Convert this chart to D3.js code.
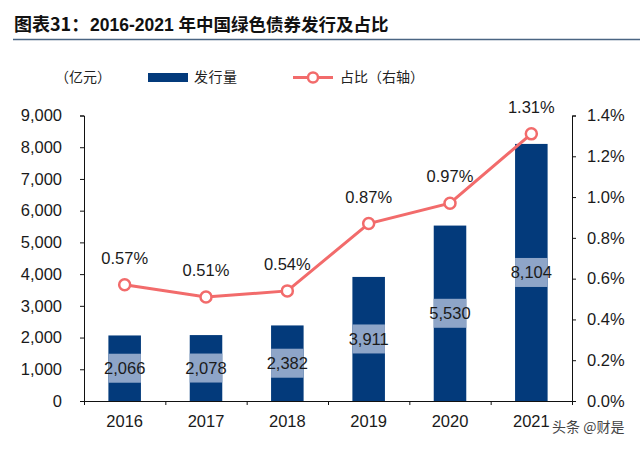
<!DOCTYPE html>
<html>
<head>
<meta charset="utf-8">
<script src="https://cdn.jsdelivr.net/npm/d3@7"></script>
<style>
  body { margin: 0; background: #fff; }
  text { font-family: "Liberation Sans", Arial, sans-serif; }
  .cjk { font-family: "Noto Sans CJK SC", sans-serif; }
</style>
</head>
<body>
<div id="chart"></div>
<script>
const years = ["2016", "2017", "2018", "2019", "2020", "2021"];
const issuance = [2066, 2078, 2382, 3911, 5530, 8104];   // 亿元
const share = [0.57, 0.51, 0.54, 0.87, 0.97, 1.31];      // %
const leftTicks = [0, 1000, 2000, 3000, 4000, 5000, 6000, 7000, 8000, 9000];
const rightTicks = [0, 0.2, 0.4, 0.6, 0.8, 1.0, 1.2, 1.4];

const width = 640, height = 449;
const plotLeft = 84, plotRight = 572, plotTop = 115.5, plotBottom = 401;

const navy = "#033a7b";
const red = "#f26b6b";

const svg = d3.select("#chart").append("svg")
    .attr("width", width)
    .attr("height", height);

// title
svg.append("text")
    .attr("class", "cjk")
    .attr("x", 14).attr("y", 31)
    .style("font-size", "18px").style("font-weight", "bold")
    .attr("fill", "#111")
    .text("图表31：");
const title = svg.append("text")
    .attr("x", 90).attr("y", 31)
    .style("font-size", "17.5px").style("font-weight", "bold")
    .attr("fill", "#111");
title.append("tspan")
    .style("font-family", "'Liberation Sans', Arial, sans-serif")
    .text("2016-2021 ");
title.append("tspan")
    .attr("class", "cjk")
    .style("font-family", "'Noto Sans CJK SC', sans-serif")
    .text("年中国绿色债券发行及占比");
svg.append("line")
    .attr("x1", 13).attr("x2", 640)
    .attr("y1", 39.5).attr("y2", 39.5)
    .attr("stroke", "#4a6583").attr("stroke-width", 1.5);

// legend
svg.append("text").attr("class", "cjk")
    .attr("x", 55).attr("y", 82)
    .style("font-size", "14px").attr("fill", "#222")
    .text("（亿元）");
svg.append("rect")
    .attr("x", 148).attr("y", 73).attr("width", 40).attr("height", 9)
    .attr("fill", navy);
svg.append("text").attr("class", "cjk")
    .attr("x", 194).attr("y", 82)
    .style("font-size", "14px").style("letter-spacing", "0.5px").attr("fill", "#222")
    .text("发行量");
svg.append("line")
    .attr("x1", 293).attr("x2", 333).attr("y1", 77.5).attr("y2", 77.5)
    .attr("stroke", red).attr("stroke-width", 3);
svg.append("circle")
    .attr("cx", 313).attr("cy", 77.5).attr("r", 5)
    .attr("fill", "#fff").attr("stroke", red).attr("stroke-width", 2.5);
svg.append("text").attr("class", "cjk")
    .attr("x", 340).attr("y", 82)
    .style("font-size", "14px").attr("fill", "#222")
    .text("占比（右轴）");

// scales
const x = d3.scaleBand()
    .domain(years)
    .range([plotLeft, plotRight])
    .paddingInner(0.6)
    .paddingOuter(0.3);

const yL = d3.scaleLinear().domain([0, 9000]).range([plotBottom, plotTop]);
const yR = d3.scaleLinear().domain([0, 1.4]).range([plotBottom, plotTop]);

// bars
const bars = svg.append("g");
bars.selectAll("rect")
  .data(issuance)
  .join("rect")
    .attr("x", (d, i) => x(years[i]))
    .attr("y", d => yL(d))
    .attr("width", x.bandwidth())
    .attr("height", d => plotBottom - yL(d))
    .attr("fill", navy);

// light label boxes in the middle of bars
bars.selectAll(".lblbox")
  .data(issuance)
  .join("rect")
    .attr("class", "lblbox")
    .attr("x", (d, i) => x(years[i]))
    .attr("y", d => (yL(d) + plotBottom) / 2 - 14.5)
    .attr("width", x.bandwidth())
    .attr("height", 29)
    .attr("fill", "#8ea5c8");

bars.selectAll(".lbl")
  .data(issuance)
  .join("text")
    .attr("class", "lbl")
    .attr("x", (d, i) => x(years[i]) + x.bandwidth() / 2)
    .attr("y", d => (yL(d) + plotBottom) / 2 + 6)
    .attr("text-anchor", "middle")
    .style("font-size", "16.5px")
    .attr("fill", "#1a1a1a")
    .text(d => d3.format(",")(d));

// axes
svg.append("g")
    .attr("transform", `translate(${plotLeft},0)`)
    .call(d3.axisLeft(yL).tickValues(leftTicks).tickSize(4).tickPadding(18).tickFormat(d3.format(",")));
svg.append("g")
    .attr("transform", `translate(${plotRight},0)`)
    .call(d3.axisRight(yR).tickValues(rightTicks).tickSize(4).tickPadding(11).tickFormat(d => d.toFixed(1) + "%"));

// bottom axis: ticks at category boundaries, labels at centres
const xb = d3.scaleLinear().domain([0, years.length]).range([plotLeft, plotRight]);
svg.append("g")
    .attr("transform", `translate(0,${plotBottom})`)
    .call(d3.axisBottom(xb).ticks(years.length).tickSize(4).tickFormat(""));
svg.append("g")
    .attr("transform", `translate(0,${plotBottom})`)
    .call(d3.axisBottom(x).tickSize(0).tickPadding(14))
    .call(g => g.select(".domain").remove());

svg.selectAll(".tick text")
    .style("font-size", "16.5px")
    .style("font-family", "'Liberation Sans', Arial, sans-serif")
    .attr("fill", "#1a1a1a");
svg.selectAll(".domain, .tick line").attr("stroke", "#111");

// share line
const line = d3.line()
    .x((d, i) => x(years[i]) + x.bandwidth() / 2)
    .y(d => yR(d));

svg.append("path")
    .datum(share)
    .attr("d", line)
    .attr("fill", "none")
    .attr("stroke", red)
    .attr("stroke-width", 3);

svg.append("g").selectAll("circle")
  .data(share)
  .join("circle")
    .attr("cx", (d, i) => x(years[i]) + x.bandwidth() / 2)
    .attr("cy", d => yR(d))
    .attr("r", 5.5)
    .attr("fill", "#fff")
    .attr("stroke", red)
    .attr("stroke-width", 2.5);

svg.append("g").selectAll("text")
  .data(share)
  .join("text")
    .attr("x", (d, i) => x(years[i]) + x.bandwidth() / 2)
    .attr("y", d => yR(d) - 21)
    .attr("text-anchor", "middle")
    .style("font-size", "16.5px")
    .attr("fill", "#1a1a1a")
    .text(d => d.toFixed(2) + "%");

// watermark
svg.append("text").attr("class", "cjk")
    .attr("x", 552).attr("y", 432)
    .style("font-size", "14px")
    .attr("fill", "#444")
    .text("头条 @财是");
</script>
</body>
</html>
